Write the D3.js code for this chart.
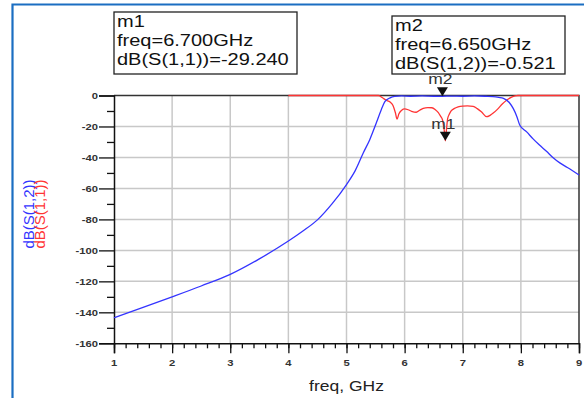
<!DOCTYPE html>
<html>
<head>
<meta charset="utf-8">
<script src="https://cdn.jsdelivr.net/npm/d3@7"></script>
<style>
  html, body { margin: 0; padding: 0; background: #fff; }
  svg { display: block; }
</style>
</head>
<body>
<div id="chart"></div>
<script>
// S(1,2) - transmission
const freqS12 = [1, 1.5, 2, 2.5, 3, 3.5, 4, 4.25, 4.5, 4.75, 5.0, 5.15, 5.29, 5.4, 5.52, 5.6, 5.66, 5.75, 5.83, 5.95, 6.1, 6.3, 6.5, 6.65, 6.8, 7.0, 7.2, 7.4, 7.52, 7.62, 7.7, 7.8, 7.87, 7.93, 7.98, 8.1, 8.21, 8.32, 8.44, 8.55, 8.67, 8.8, 9.0];
const dbS12 = [-143.5, -136.8, -130, -123, -115.5, -105.5, -94, -87.5, -80.3, -70, -57.5, -48.5, -37, -28.5, -17, -9, -4, -1.5, -0.6, -0.3, -0.5, -0.3, -0.5, -0.52, -0.4, -0.5, -0.3, -0.5, -0.7, -1.2, -1.8, -4.5, -8.5, -13.5, -19, -23.5, -28, -32, -36, -40, -43.5, -46.5, -51.3];

// S(1,1) - reflection
const freqS11 = [4, 5.0, 5.55, 5.62, 5.68, 5.75, 5.8, 5.84, 5.87, 5.9, 5.95, 6.0, 6.06, 6.12, 6.2, 6.26, 6.32, 6.4, 6.47, 6.53, 6.58, 6.62, 6.65, 6.68, 6.7, 6.72, 6.74, 6.77, 6.8, 6.85, 6.92, 7.0, 7.08, 7.18, 7.25, 7.32, 7.41, 7.47, 7.53, 7.6, 7.68, 7.76, 7.84, 7.9, 7.95, 9];
const dbS11 = [0, 0, 0, -1.5, -3, -4.2, -6.5, -11, -15.3, -12, -9.5, -8.7, -9.2, -10.2, -10.8, -9.5, -8.3, -7.8, -7.9, -9.2, -11, -13.5, -15.5, -22, -29.24, -22, -15, -12, -10, -8.5, -7.3, -6.8, -6.7, -7, -8.5, -10.5, -13.7, -12.8, -11.2, -8.8, -5.5, -2.9, -1, -0.2, 0, 0];

const xTicks = [1, 2, 3, 4, 5, 6, 7, 8, 9];
const yTicks = [0, -20, -40, -60, -80, -100, -120, -140, -160];

// markers
const m1 = { name: "m1", freq: 6.7, db: -29.24, lines: ["m1", "freq=6.700GHz", "dB(S(1,1))=-29.240"] };
const m2 = { name: "m2", freq: 6.65, db: -0.521, lines: ["m2", "freq=6.650GHz", "dB(S(1,2))=-0.521"] };

const W = 584, H = 398;
const blue = "#3434ff";
const red = "#ff3434";
const gridColor = "#c8c8c8";
const font = "'Liberation Sans', Arial, sans-serif";
const sx = 1.25; // text in the picture is stretched sideways

const svg = d3.select("#chart").append("svg")
  .attr("width", W).attr("height", H)
  .style("font-family", font);

const x = d3.scaleLinear().domain([1, 9]).range([114, 579]);
const y = d3.scaleLinear().domain([-160, 0]).range([343.3, 95.5]);

// stretched text helper
function label(g, tx, ty, str, size, anchor, color) {
  return g.append("text")
    .attr("transform", `translate(${tx},${ty}) scale(${sx},1)`)
    .attr("text-anchor", anchor)
    .attr("font-size", size + "px")
    .attr("fill", color)
    .text(str);
}

// outer blue frame
svg.append("path")
  .attr("d", `M12.5,${H} L12.5,4.5 L${W},4.5`)
  .attr("fill", "none")
  .attr("stroke", "#1b6ec2")
  .attr("stroke-width", 2.2);

// grid
svg.append("g").selectAll("line")
  .data(xTicks.slice(1, -1))
  .join("line")
  .attr("x1", d => x(d)).attr("x2", d => x(d))
  .attr("y1", y(0)).attr("y2", y(-160))
  .attr("stroke", gridColor).attr("stroke-width", 1.5);

svg.append("g").selectAll("line")
  .data(yTicks.slice(1, -1))
  .join("line")
  .attr("x1", x(1)).attr("x2", x(9))
  .attr("y1", d => y(d)).attr("y2", d => y(d))
  .attr("stroke", gridColor).attr("stroke-width", 1.5);

// top + right frame
svg.append("path")
  .attr("d", `M${x(1)},${y(0)} L${x(9)},${y(0)} L${x(9)},${y(-160)}`)
  .attr("fill", "none")
  .attr("stroke", "#333").attr("stroke-width", 1.5);

// axes (tick lines only, labels drawn stretched)
svg.append("g")
  .attr("transform", `translate(0,${y(-160)})`)
  .call(d3.axisBottom(x).tickValues(xTicks).tickSize(10).tickFormat(""));
svg.append("g")
  .attr("transform", `translate(0,${y(-160)})`)
  .call(d3.axisBottom(x).tickValues(d3.range(1, 9.001, 0.2)).tickSize(5).tickFormat(""))
  .select(".domain").remove();

svg.append("g")
  .attr("transform", `translate(${x(1)},0)`)
  .call(d3.axisLeft(y).tickValues(yTicks).tickSize(15).tickFormat(""));
svg.append("g")
  .attr("transform", `translate(${x(1)},0)`)
  .call(d3.axisLeft(y).tickValues(d3.range(-150, 0, 20)).tickSize(7).tickFormat(""))
  .select(".domain").remove();

svg.selectAll(".domain").attr("stroke", "#111").attr("stroke-width", 1.5);
svg.selectAll(".tick line").attr("stroke", "#111").attr("stroke-width", 1.3);

const tickLabels = svg.append("g").attr("font-weight", "bold");
xTicks.forEach(t => label(tickLabels, x(t), 366, String(t), 9, "middle", "#333"));
yTicks.forEach(t => label(tickLabels, 98, y(t) + 3.5, String(t), 9, "end", "#333"));

// axis titles
label(svg, x(5), 391, "freq, GHz", 14, "middle", "#222");

svg.append("text")
  .attr("transform", "translate(34,214) rotate(-90)")
  .attr("text-anchor", "middle")
  .attr("font-size", "15px")
  .attr("fill", blue)
  .text("dB(S(1,2))");
svg.append("text")
  .attr("transform", "translate(45,214) rotate(-90)")
  .attr("text-anchor", "middle")
  .attr("font-size", "15px")
  .attr("fill", red)
  .text("dB(S(1,1))");

// curves
const line = d3.line().x(d => x(d[0])).y(d => y(d[1])).curve(d3.curveMonotoneX);

svg.append("path")
  .datum(freqS11.map((f, i) => [f, dbS11[i]]))
  .attr("fill", "none").attr("stroke", red).attr("stroke-width", 1.3)
  .attr("d", line);

svg.append("path")
  .datum(freqS12.map((f, i) => [f, dbS12[i]]))
  .attr("fill", "none").attr("stroke", blue).attr("stroke-width", 1.3)
  .attr("d", line);

// marker triangles + names
[m1, m2].forEach(m => {
  const mx = x(m.freq), my = y(m.db);
  svg.append("path")
    .attr("d", `M${mx},${my} L${mx - 5.5},${my - 9} L${mx + 5.5},${my - 9} Z`)
    .attr("fill", "#111");
  label(svg, mx - 2, my - 12, m.name, 14, "middle", "#333");
});

// marker readout boxes
function readout(bx, by, bw, bh, m) {
  const g = svg.append("g");
  g.append("rect")
    .attr("x", bx).attr("y", by).attr("width", bw).attr("height", bh)
    .attr("fill", "#fff").attr("stroke", "#222").attr("stroke-width", 1.3);
  m.lines.forEach((s, i) => label(g, bx + 3, by + 15 + i * 19, s, 16, "start", "#111"));
}
readout(114, 12, 183, 62, m1);
readout(392, 16, 173, 58, m2);
</script>
</body>
</html>
